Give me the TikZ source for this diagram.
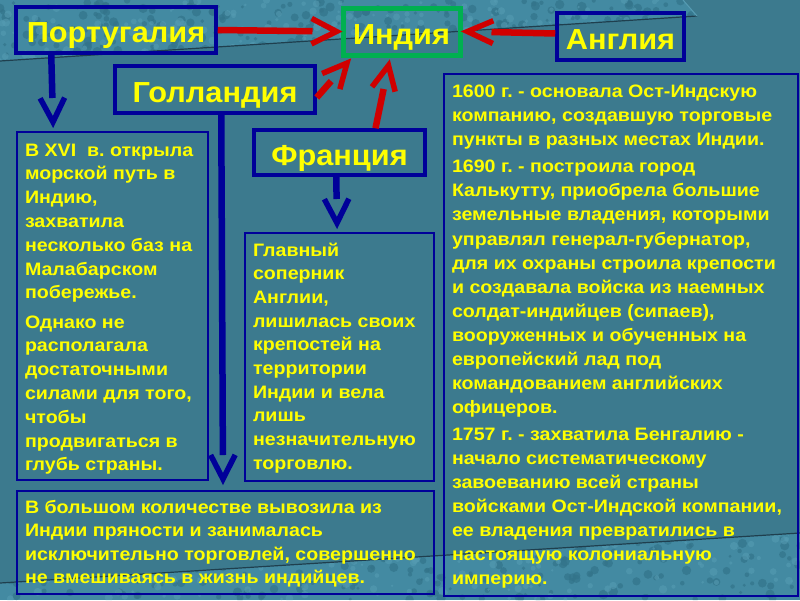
\documentclass[tikz,border=0pt]{standalone}
\usepackage{fontspec}
\setmainfont{Liberation Sans}
\newfontfamily\titlefont[FakeStretch=1.06]{Liberation Sans}
\newfontfamily\bodyfont[FakeStretch=1.09]{Liberation Sans}
\usetikzlibrary{calc}
\frenchspacing
\definecolor{bg}{HTML}{3C7A8E}
\definecolor{texa}{HTML}{438AA2}
\definecolor{texb}{HTML}{33748A}
\definecolor{texc}{HTML}{559BB2}
\definecolor{edge}{HTML}{1F3F4E}
\definecolor{navy}{HTML}{000099}
\definecolor{arrred}{HTML}{D00000}
\definecolor{grn}{HTML}{00B050}
\definecolor{ylw}{HTML}{FFFF00}
\newcommand{\bodytext}[5]{\parbox[c][#2][t]{#1}{\bodyfont\fontsize{18}{#3}\selectfont\bfseries\frenchspacing\parindent=0pt\parskip=0pt\leftskip=8pt\rightskip=0pt plus 1fil\relax\rule{0pt}{#4}#5}}
\tikzset{
  titlebox/.style={draw=navy, line width=3.5pt, text=ylw, font=\titlefont\fontsize{29}{30}\selectfont\bfseries, inner sep=0pt, text height=25pt, text depth=0pt},
  textbox/.style={draw=navy, line width=2pt, text=ylw, inner sep=0pt, anchor=north west},
  redarr/.style={draw=arrred, line width=6.5pt},
  redhead/.style={draw=arrred, line width=5.5pt, line join=miter},
  bluearr/.style={draw=navy, line width=6.5pt},
  bluehead/.style={draw=navy, line width=5.5pt, line join=miter},
}
\begin{document}
\begin{tikzpicture}[x=1pt,y=-1pt]
\useasboundingbox (0,0) rectangle (800,600);
\fill[bg] (0,0) rectangle (800,600);
% textured top slab
\begin{scope}
\clip (0,0) -- (683,0) -- (697,16) -- (0,61) -- cycle;
\fill[texa] (0,0) rectangle (700,62);
\pgfmathsetseed{7}
\foreach \i in {1,...,260}{
  \pgfmathsetmacro\xx{rnd*700}\pgfmathsetmacro\yy{rnd*62}\pgfmathsetmacro\rr{1.5+rnd*3.5}
  \fill[texb, opacity=0.7] (\xx,\yy) circle[radius=\rr pt];}
\foreach \i in {1,...,200}{
  \pgfmathsetmacro\xx{rnd*700}\pgfmathsetmacro\yy{rnd*62}\pgfmathsetmacro\rr{1.2+rnd*3}
  \fill[texc, opacity=0.6] (\xx,\yy) circle[radius=\rr pt];}
\end{scope}
\draw[edge, line width=1.2pt] (0,61) -- (697,16);
\draw[texc, line width=1pt] (697,16) -- (683,0);
% textured bottom slab
\begin{scope}
\clip (0,600) -- (0,583) -- (800,533) -- (800,600) -- cycle;
\fill[texa] (0,530) rectangle (800,600);
\foreach \i in {1,...,260}{
  \pgfmathsetmacro\xx{rnd*800}\pgfmathsetmacro\yy{530+rnd*70}\pgfmathsetmacro\rr{1.5+rnd*3.5}
  \fill[texb, opacity=0.7] (\xx,\yy) circle[radius=\rr pt];}
\foreach \i in {1,...,200}{
  \pgfmathsetmacro\xx{rnd*800}\pgfmathsetmacro\yy{530+rnd*70}\pgfmathsetmacro\rr{1.2+rnd*3}
  \fill[texc, opacity=0.6] (\xx,\yy) circle[radius=\rr pt];}
\end{scope}
\draw[edge, line width=1.2pt] (0,583) -- (800,533);

% title boxes
\node[titlebox, minimum width=200pt, minimum height=46pt] (port) at (116,30) {Португалия};
\node[titlebox, draw=grn, line width=5pt, minimum width=117pt, minimum height=47pt] (india) at (401.5,31.5) {Индия};
\node[titlebox, minimum width=127pt, minimum height=47pt] (engl) at (620.5,36.5) {Англия};
\node[titlebox, minimum width=200pt, minimum height=47pt] (holl) at (215,89.5) {Голландия};
\node[titlebox, minimum width=171pt, minimum height=45pt] (fr) at (339.5,152.5) {Франция};

% text boxes
\node[textbox] (pl) at (16,131) {\bodytext{191pt}{348pt}{23.8pt}{24pt}{%
В XVI\ \ в. открыла\\
морской путь в\\
Индию,\\
захватила\\
несколько баз на\\
Малабарском\\
побережье.\par\vspace{5.5pt}
Однако не\\
располагала\\
достаточными\\
силами для того,\\
чтобы\\
продвигаться в\\
глубь страны.}};
\node[textbox] (ft) at (244,232) {\bodytext{189pt}{248pt}{23.7pt}{23pt}{%
Главный\\
соперник\\
Англии,\\
лишилась своих\\
крепостей на\\
территории\\
Индии и вела\\
лишь\\
незначительную\\
торговлю.}};
\node[textbox] (en) at (443,73) {\bodytext{354pt}{522pt}{24.05pt}{23.7pt}{%
1600 г. - основала Ост-Индскую\\
компанию, создавшую торговые\\
пункты в разных местах Индии.\par\vspace{3pt}
1690 г. - построила город\\
Калькутту, приобрела большие\\
земельные владения, которыми\\
управлял генерал-губернатор,\\
для их охраны строила крепости\\
и создавала войска из наемных\\
солдат-индийцев (сипаев),\\
вооруженных и обученных на\\
европейский лад под\\
командованием английских\\
офицеров.\par\vspace{3pt}
1757 г. - захватила Бенгалию -\\
начало систематическому\\
завоеванию всей страны\\
войсками Ост-Индской компании,\\
ее владения превратились в\\
настоящую колониальную\\
империю.}};
\node[textbox] (bot) at (16,490) {\bodytext{417pt}{103pt}{23.5pt}{22pt}{%
В большом количестве вывозила из\\
Индии пряности и занималась\\
исключительно торговлей, совершенно\\
не вмешиваясь в жизнь индийцев.}};

% red arrows to India
\coordinate (a1s) at (port.east);
\coordinate (a1t) at ([xshift=-4pt]india.west);
\draw[redarr] (a1s) -- ($(a1t)!24pt!(a1s)$);
\draw[redhead] ($(a1t)!28pt!27:(a1s)$) -- (a1t) -- ($(a1t)!28pt!-27:(a1s)$);

\coordinate (a2s) at ([yshift=3pt]engl.west);
\coordinate (a2t) at ([xshift=5pt]india.east);
\draw[redarr] (a2s) -- ($(a2t)!24pt!(a2s)$);
\draw[redhead] ($(a2t)!28pt!24:(a2s)$) -- (a2t) -- ($(a2t)!28pt!-24:(a2s)$);

\coordinate (a3s) at ([yshift=-8pt]holl.east);
\coordinate (a3t) at ([xshift=6.5pt,yshift=-5.6pt]india.south west);
\draw[redarr] (a3s) -- ($(a3t)!24pt!(a3s)$);
\draw[redhead] ($(a3t)!27pt!26:(a3s)$) -- (a3t) -- ($(a3t)!27pt!-26:(a3s)$);

\coordinate (a4s) at ([xshift=36pt]fr.north);
\coordinate (a4t) at ([xshift=48pt,yshift=-8pt]india.south west);
\draw[redarr] (a4s) -- ($(a4t)!24pt!(a4s)$);
\draw[redhead] ($(a4t)!27pt!26:(a4s)$) -- (a4t) -- ($(a4t)!27pt!-26:(a4s)$);

% blue arrows down
\coordinate (b1s) at ([xshift=37pt]port.south west);
\coordinate (b1t) at ([xshift=37pt,yshift=9pt]pl.north west);
\draw[bluearr] (b1s) -- ($(b1t)!24pt!(b1s)$);
\draw[bluehead] ($(b1t)!27pt!27:(b1s)$) -- (b1t) -- ($(b1t)!27pt!-27:(b1s)$);

\coordinate (b2s) at ([xshift=108pt]holl.south west);
\coordinate (b2t) at ([xshift=207pt,yshift=11pt]bot.north west);
\draw[bluearr] (b2s) -- ($(b2t)!24pt!(b2s)$);
\draw[bluehead] ($(b2t)!27pt!27:(b2s)$) -- (b2t) -- ($(b2t)!27pt!-27:(b2s)$);

\coordinate (b3s) at ([xshift=84pt]fr.south west);
\coordinate (b3t) at ([xshift=93pt,yshift=9pt]ft.north west);
\draw[bluearr] (b3s) -- ($(b3t)!24pt!(b3s)$);
\draw[bluehead] ($(b3t)!27pt!27:(b3s)$) -- (b3t) -- ($(b3t)!27pt!-27:(b3s)$);
\end{tikzpicture}
\end{document}
